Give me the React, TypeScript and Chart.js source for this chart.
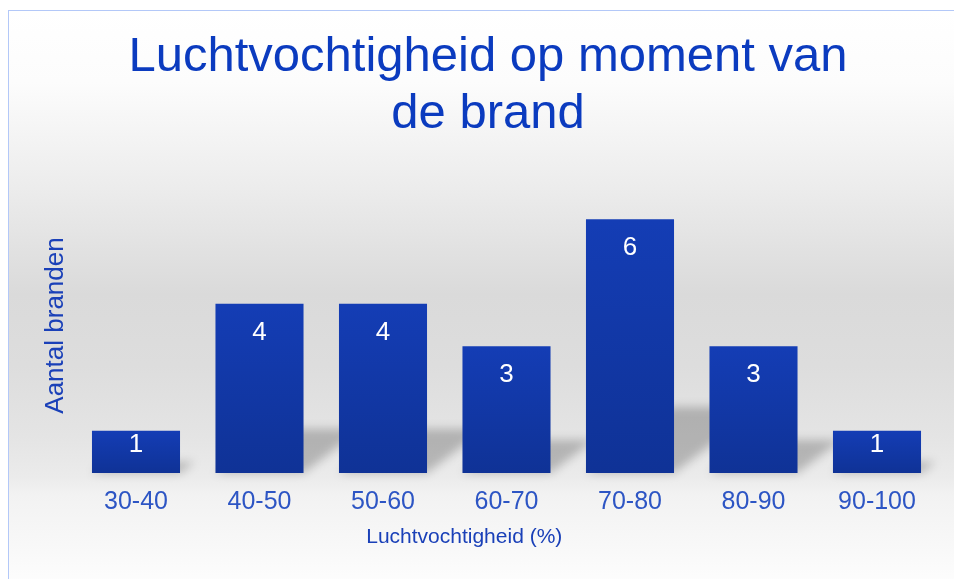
import React, { useEffect, useRef } from 'react';
import { Chart, registerables } from 'chart.js';

Chart.register(...registerables);

const categories = ['30-40', '40-50', '50-60', '60-70', '70-80', '80-90', '90-100'];
const counts = [1, 4, 4, 3, 6, 3, 1];
const titleLines = ['Luchtvochtigheid op moment van', 'de brand'];
const xTitle = 'Luchtvochtigheid (%)';
const yTitle = 'Aantal branden';
const yMax = 7;

const FONT = '"Liberation Sans", Arial, sans-serif';
const NARROW = '"Liberation Sans Narrow"';
const TITLE_COLOR = '#0b3bbf';
const TICK_COLOR = '#2d55c4';
const AXIS_TITLE_COLOR = '#1a40b8';

const shadowPlugin = {
  id: 'barShadow',
  beforeDatasetsDraw(chart: any) {
    const ctx = chart.ctx;
    const meta = chart.getDatasetMeta(0);
    ctx.save();
    ctx.filter = 'blur(5px)';
    ctx.fillStyle = 'rgba(0,0,0,0.22)';
    meta.data.forEach((bar: any) => {
      const { x, y, base, width } = bar.getProps(['x', 'y', 'base', 'width'], true);
      const h = base - y;
      const dx = h * 0.34;
      const dy = h * 0.26;
      const x0 = x - width / 2;
      const x1 = x + width / 2;
      ctx.beginPath();
      ctx.moveTo(x0, base);
      ctx.lineTo(x1, base);
      ctx.lineTo(x1 + dx, base - dy);
      ctx.lineTo(x0 + dx, base - dy);
      ctx.closePath();
      ctx.fill();
    });
    ctx.restore();
  },
};

const labelPlugin = {
  id: 'barLabels',
  afterDatasetsDraw(chart: any) {
    const ctx = chart.ctx;
    const meta = chart.getDatasetMeta(0);
    ctx.save();
    ctx.fillStyle = '#ffffff';
    ctx.font = `26px ${FONT}`;
    ctx.textAlign = 'center';
    ctx.textBaseline = 'middle';
    meta.data.forEach((bar: any, i: number) => {
      const { x, y, base } = bar.getProps(['x', 'y', 'base'], true);
      const h = base - y;
      const off = h < 60 ? 14 : 29;
      ctx.fillText(String(counts[i]), x, y + off);
    });
    ctx.restore();
  },
};

function narrowAvailable(ctx: CanvasRenderingContext2D): boolean {
  ctx.save();
  ctx.font = '25px monospace';
  const a = ctx.measureText(xTitle).width;
  ctx.font = `25px ${NARROW}, monospace`;
  const b = ctx.measureText(xTitle).width;
  ctx.restore();
  return Math.abs(a - b) > 1;
}

const textPlugin = {
  id: 'chartTexts',
  afterDraw(chart: any) {
    const ctx = chart.ctx;
    const area = chart.chartArea;
    ctx.save();
    ctx.textAlign = 'center';
    ctx.textBaseline = 'middle';
    // main title
    ctx.fillStyle = TITLE_COLOR;
    ctx.font = `49px ${FONT}`;
    titleLines.forEach((line, i) => {
      ctx.fillText(line, area.left + 413.75, area.top - 119.5 + i * 57);
    });
    // axis titles
    ctx.fillStyle = AXIS_TITLE_COLOR;
    ctx.font = narrowAvailable(ctx) ? `24px ${NARROW}, ${FONT}` : `21px ${FONT}`;
    ctx.fillText(xTitle, area.left + 390, area.bottom + 64.5);
    ctx.font = `26px ${FONT}`;
    ctx.translate(area.left - 18, area.bottom - 147.5);
    ctx.rotate(-Math.PI / 2);
    ctx.fillText(yTitle, 0, 0);
    ctx.restore();
  },
};

export default function App() {
  const ref = useRef<HTMLCanvasElement | null>(null);

  useEffect(() => {
    if (!ref.current) return;
    const chart = new Chart(ref.current, {
      type: 'bar',
      data: {
        labels: categories,
        datasets: [
          {
            data: counts,
            backgroundColor: (c: any) => {
              const ch = c.chart;
              const ys = ch.scales && ch.scales.y;
              if (!ys || c.type !== 'data' || !ch.chartArea) return '#123aab';
              const top = ys.getPixelForValue(c.raw);
              const bottom = ys.getPixelForValue(0);
              if (!Number.isFinite(top) || !Number.isFinite(bottom)) return '#123aab';
              const g = ch.ctx.createLinearGradient(0, top, 0, bottom);
              g.addColorStop(0, '#143db5');
              g.addColorStop(1, '#0f3296');
              return g;
            },
            borderWidth: 0,
            barPercentage: 0.713,
            categoryPercentage: 1,
          },
        ],
      },
      options: {
        animation: false,
        responsive: false,
        devicePixelRatio: 1,
        layout: { padding: { left: 65.25, right: 28.25, top: 166, bottom: 48 } },
        plugins: {
          legend: { display: false },
          tooltip: { enabled: false },
          title: { display: false },
        },
        scales: {
          x: {
            grid: { display: false, drawTicks: false },
            border: { display: false },
            ticks: {
              color: TICK_COLOR,
              font: { family: FONT, size: 25 },
              padding: 14,
            },
          },
          y: {
            display: false,
            min: 0,
            max: yMax,
          },
        },
      },
      plugins: [shadowPlugin, labelPlugin, textPlugin],
    });
    return () => chart.destroy();
  }, []);

  return (
    <div style={{ position: 'fixed', left: 8, top: 10, right: 0, bottom: 0, overflow: 'hidden' }}>
      <div
        style={{
          width: 970,
          height: 590,
          border: '1px solid #b3c8f8',
          background:
            'linear-gradient(to bottom, #ffffff 0%, #fcfcfc 12%, #ececec 30%, #dadada 48%, #dddddd 60%, #e4e4e4 72%, #ebebeb 79%, #f2f2f2 82%, #fafafa 93%, #ffffff 100%)',
        }}
      >
        <canvas ref={ref} width={958} height={568} style={{ display: 'block' }} />
      </div>
    </div>
  );
}
